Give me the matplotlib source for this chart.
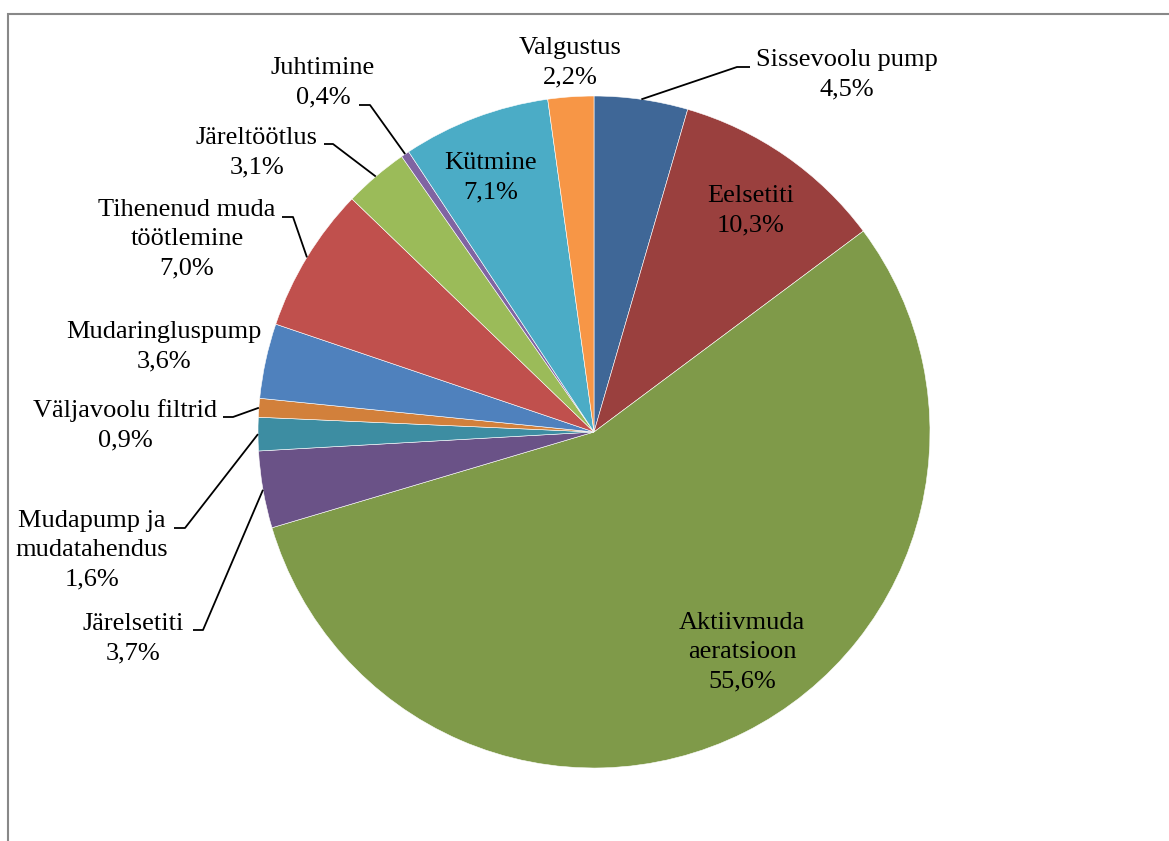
import numpy as np
import matplotlib.pyplot as plt
from matplotlib.patches import Rectangle

# slice data, clockwise from 12 o'clock
labels = ["Sissevoolu pump", "Eelsetiti", "Aktiivmuda\naeratsioon", "Järelsetiti",
          "Mudapump ja\nmudatahendus", "Väljavoolu filtrid", "Mudaringluspump",
          "Tihenenud muda\ntöötlemine", "Järeltöötlus", "Juhtimine", "Kütmine", "Valgustus"]
shares = [4.5, 10.3, 55.6, 3.7, 1.6, 0.9, 3.6, 7.0, 3.1, 0.4, 7.1, 2.2]
colors = ["#3F6797", "#9A403E", "#7F9A49", "#6A5287", "#3D8DA2", "#D2803B",
          "#4F81BD", "#C0504D", "#9BBB59", "#8064A2", "#4BACC6", "#F79646"]

W, H = 1169, 841
CX, CY, R = 594, 432, 336   # pie centre / radius in pixels

# label centres in pixels
label_pos = [(847, 75), (751, 211), (742, 652), (133, 639), (92, 550), (125, 425),
             (164, 347), (187, 239), (257, 153), (323, 83), (491, 178), (570, 63)]
# leader lines: (elbow x, elbow y, end x) in pixels, None = no leader
leaders = [(737, 67, 750), None, None, (203, 630, 193), (185, 528, 174),
           (233, 417, 223), None, (293, 217, 282), (333, 144, 324),
           (370, 105, 359), None, None]


def px(x, y):
    return (x - CX) / R, (CY - y) / R


fig = plt.figure(figsize=(W / 100, H / 100), dpi=100)
ax = fig.add_axes([0, 0, 1, 1])

wedges, _ = ax.pie(shares, colors=colors, startangle=90, counterclock=False,
                   radius=1, center=(0, 0),
                   wedgeprops=dict(edgecolor="white", linewidth=0.4))
# pie() resets the limits, so set them afterwards
ax.set_xlim(-CX / R, (W - CX) / R)
ax.set_ylim(-(H - CY) / R, CY / R)
ax.set_aspect("equal")
ax.axis("off")

font = dict(family="Liberation Serif", size=19, color="black")
cum = np.cumsum([0] + shares)
for i, lab in enumerate(labels):
    txt = lab + "\n" + f"{shares[i]:.1f}".replace(".", ",") + "%"
    x, y = px(*label_pos[i])
    ax.text(x, y, txt, ha="center", va="center", multialignment="center",
            linespacing=1.42, **font)
    if leaders[i] is not None:
        mid = np.deg2rad(90 - (cum[i] + shares[i] / 2) * 3.6)
        ex, ey, endx = leaders[i]
        p1 = px(ex, ey)
        p2 = px(endx, ey)
        ax.plot([np.cos(mid), p1[0], p2[0]], [np.sin(mid), p1[1], p2[1]],
                color="black", lw=1.3, solid_capstyle="butt")

# chart area border (cropped at right and bottom)
fig.patches.append(Rectangle((8 / W, -0.1), 1.2, (H - 14) / H + 0.1,
                             transform=fig.transFigure, fill=False,
                             edgecolor="#888888", lw=1.5))

fig.savefig("out.png", dpi=100)
